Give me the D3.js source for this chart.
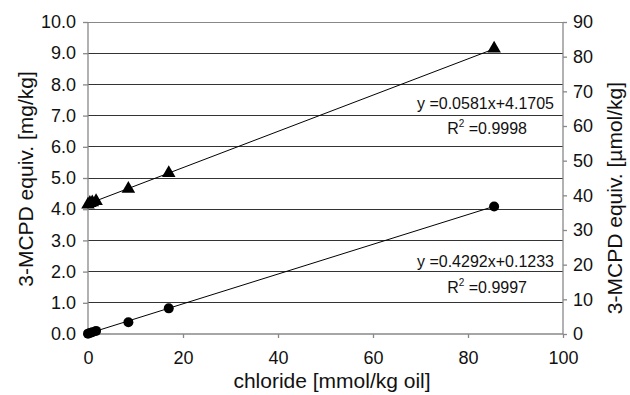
<!DOCTYPE html>
<html><head><meta charset="utf-8">
<script src="https://cdn.jsdelivr.net/npm/d3@7"></script>
<style>body{margin:0;background:#fff}svg{display:block}text{font-family:"Liberation Sans",Arial,sans-serif;fill:#111}</style>
</head><body>
<script>
const chloride = [0, 0.4, 0.9, 1.7, 8.5, 17.0, 85.5];
const triangleMg = [4.15, 4.20, 4.22, 4.26, 4.65, 5.16, 9.15];
const circleUmol = [0.1, 0.3, 0.5, 0.9, 3.4, 7.4, 36.8];
const leftTicks = [0,1,2,3,4,5,6,7,8,9,10];
const rightTicks = [0,10,20,30,40,50,60,70,80,90];
const xTicks = [0,20,40,60,80,100];
const fitTri = {slope:0.0581, intercept:4.1705, eq:"y =0.0581x+4.1705", r2:"=0.9998"};
const fitCirc = {slope:0.4292, intercept:0.1233, eq:"y =0.4292x+0.1233", r2:"=0.9997"};

const W=630,H=395;
const svg=d3.select("body").append("svg").attr("width",W).attr("height",H);
const x=d3.scaleLinear([0,100],[88,563]);
const yL=d3.scaleLinear([0,10],[334,22]);
const yR=d3.scaleLinear([0,90],[334,22]);

// gridlines
svg.append("g").selectAll("line").data(leftTicks.filter(d=>d>0&&d<10)).join("line")
 .attr("x1",x(0)).attr("x2",x(100)).attr("y1",d=>yL(d)).attr("y2",d=>yL(d))
 .attr("stroke","#333").attr("stroke-width",1).attr("shape-rendering","crispEdges");
svg.append("line").attr("x1",x(0)).attr("x2",x(100)).attr("y1",yL(10)).attr("y2",yL(10))
 .attr("stroke","#888").attr("shape-rendering","crispEdges");

const fs=18;
const gL=svg.append("g").attr("transform",`translate(${x(0)},0)`)
 .call(d3.axisLeft(yL).tickValues(leftTicks).tickFormat(d3.format(".1f")).tickSize(5).tickPadding(7));
const gR=svg.append("g").attr("transform",`translate(${x(100)},0)`)
 .call(d3.axisRight(yR).tickValues(rightTicks).tickSize(4).tickPadding(6));
const gX=svg.append("g").attr("transform",`translate(0,${yL(0)})`)
 .call(d3.axisBottom(x).tickValues(xTicks).tickSize(4).tickPadding(13));
[gL,gR,gX].forEach(g=>{
 g.selectAll("path,line").attr("stroke","#888").attr("stroke-width",1.3);
 g.selectAll("text").attr("font-size",fs).attr("font-family","Liberation Sans, Arial, sans-serif").attr("fill","#111");
});
gL.select(".domain").attr("d",`M0,${yL(0)}V${yL(10)}`);
gR.select(".domain").attr("d",`M0,${yR(0)}V${yR(90)}`);
gX.select(".domain").attr("d",`M${x(0)},0H${x(100)}`);

// titles
svg.append("text").attr("transform",`translate(33,179) rotate(-90)`).attr("text-anchor","middle")
 .attr("font-size",21).text("3-MCPD equiv. [mg/kg]");
svg.append("text").attr("transform",`translate(622,198) rotate(-90)`).attr("text-anchor","middle")
 .attr("font-size",21).text("3-MCPD equiv. [µmol/kg]");
svg.append("text").attr("x",332).attr("y",388).attr("text-anchor","middle")
 .attr("font-size",21).text("chloride [mmol/kg oil]");

// trend lines
const xmax=d3.max(chloride), xmin=d3.min(chloride);
svg.append("line").attr("x1",x(xmin)).attr("x2",x(xmax))
 .attr("y1",yL(fitTri.intercept+fitTri.slope*xmin)).attr("y2",yL(fitTri.intercept+fitTri.slope*xmax))
 .attr("stroke","#000").attr("stroke-width",1);
svg.append("line").attr("x1",x(xmin)).attr("x2",x(xmax))
 .attr("y1",yR(fitCirc.intercept+fitCirc.slope*xmin)).attr("y2",yR(fitCirc.intercept+fitCirc.slope*xmax))
 .attr("stroke","#000").attr("stroke-width",1);

// markers
svg.append("g").selectAll("path").data(chloride).join("path")
 .attr("d",d3.symbol(d3.symbolTriangle,80)())
 .attr("transform",(d,i)=>`translate(${x(d)},${yL(triangleMg[i])})`).attr("fill","#000");
svg.append("g").selectAll("circle").data(chloride).join("circle")
 .attr("cx",d=>x(d)).attr("cy",(d,i)=>yR(circleUmol[i])).attr("r",5).attr("fill","#000");

// equations
function eq(fit,yEq,yR2){
 svg.append("text").attr("x",554).attr("y",yEq).attr("text-anchor","end").attr("font-size",16).text(fit.eq);
 const t=svg.append("text").attr("x",527).attr("y",yR2).attr("text-anchor","end").attr("font-size",16);
 t.append("tspan").text("R");
 t.append("tspan").attr("dy",-7).attr("font-size",10).text("2");
 t.append("tspan").attr("dy",7).text(" "+fit.r2);
}
eq(fitTri,109,134);
eq(fitCirc,267,293);
</script>
</body></html>
